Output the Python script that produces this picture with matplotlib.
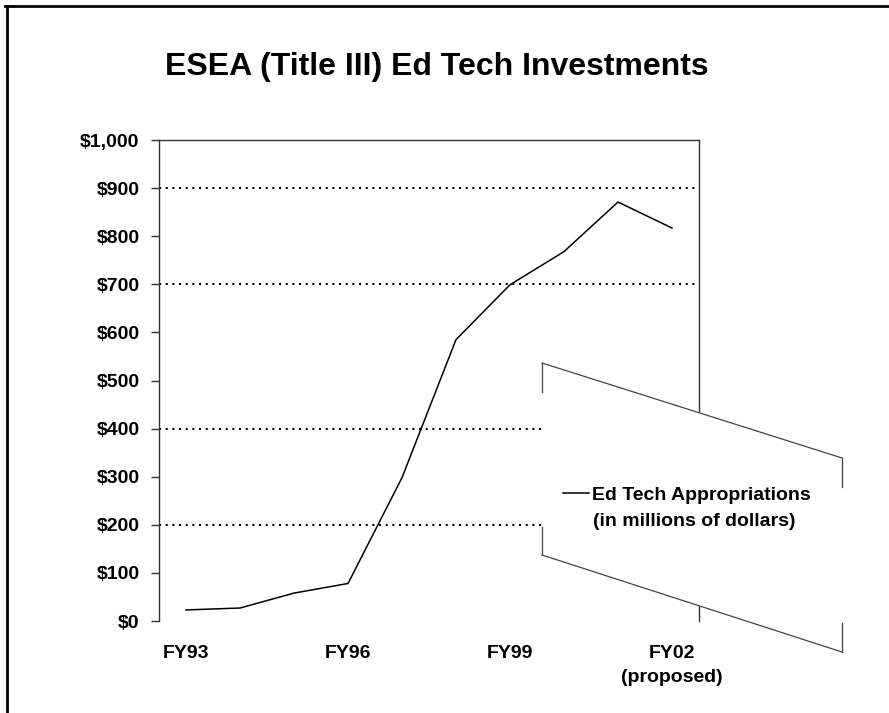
import matplotlib
matplotlib.use("Agg")
import matplotlib.pyplot as plt
from matplotlib.lines import Line2D
from matplotlib.patches import Polygon
from matplotlib.ticker import FuncFormatter, MultipleLocator

plt.rcParams['font.family'] = ['Liberation Sans', 'DejaVu Sans']
plt.rcParams['font.weight'] = 'bold'

# data (millions of dollars)
fiscal_years = ["FY93", "FY94", "FY95", "FY96", "FY97", "FY98", "FY99", "FY00", "FY01", "FY02"]
appropriations = [23, 27, 58, 78, 298, 585, 699, 768, 871, 817]
shown_labels = {"FY93": "FY93", "FY96": "FY96", "FY99": "FY99", "FY02": "FY02\n(proposed)"}
grid_levels = [200, 400, 700, 900]

W, H = 889, 713


def px(x, y):
    # pixel position (from top-left) -> figure fraction
    return (x / W, 1 - y / H)


fig = plt.figure(figsize=(W / 100, H / 100), dpi=100)
ax = fig.add_axes([159 / W, 1 - 621 / H, 540 / W, 481 / H])

x = list(range(len(fiscal_years)))
for g in grid_levels:
    ax.axhline(g, color='black', linestyle=(0, (1, 2.2)), linewidth=1.5, zorder=1)
ax.plot(x, appropriations, color='black', linewidth=1.1, zorder=3)

ax.set_xlim(-0.5, len(fiscal_years) - 0.5)
ax.set_ylim(0, 1000)
ax.yaxis.set_major_locator(MultipleLocator(100))
ax.yaxis.set_major_formatter(FuncFormatter(lambda v, p: f"${v:,.0f}"))
ticks = [i for i, fy in enumerate(fiscal_years) if fy in shown_labels]
ax.set_xticks(ticks, [shown_labels[fiscal_years[i]] for i in ticks], linespacing=1.6)
ax.tick_params(axis='x', length=0, pad=17, labelsize=14)
ax.tick_params(axis='y', length=6, width=1, pad=8, labelsize=14, color='#333333')
ax.spines['bottom'].set_visible(False)
for s in ['left', 'top', 'right']:
    ax.spines[s].set_color('#333333')
    ax.spines[s].set_linewidth(1.0)

fig.suptitle("ESEA (Title III) Ed Tech Investments", x=437 / W, y=1 - 67 / H,
             va='center', fontsize=23, fontweight='bold')

# skewed legend box as it appears in the scan
corners = [px(542, 363), px(842, 458), px(842, 652), px(542, 555)]
fig.add_artist(Polygon(corners, closed=True, facecolor='white', edgecolor='none',
                       transform=fig.transFigure, zorder=4))
edge = dict(color='#444444', linewidth=0.9, transform=fig.transFigure, zorder=5)
for (xa, ya), (xb, yb) in [((542, 363), (842, 458)), ((542, 555), (842, 652)),
                           ((542, 363), (542, 392)), ((542, 527), (542, 555)),
                           ((842, 458), (842, 487)), ((842, 623), (842, 652))]:
    p, q = px(xa, ya), px(xb, yb)
    fig.add_artist(Line2D([p[0], q[0]], [p[1], q[1]], **edge))

a, b = px(563, 493), px(589, 493)
fig.add_artist(Line2D([a[0], b[0]], [a[1], b[1]], color='black', linewidth=1.1,
                      transform=fig.transFigure, zorder=6))
fig.text(*px(592, 496), "Ed Tech Appropriations", fontsize=14, va='center', zorder=6)
fig.text(*px(593, 521), "(in millions of dollars)", fontsize=14, va='center', zorder=6)

# page frame from the scan (top and left edges)
frame = dict(color='black', linewidth=2, transform=fig.transFigure)
fig.add_artist(Line2D([5 / W, 1], [1 - 6 / H, 1 - 6 / H], **frame))
fig.add_artist(Line2D([7 / W, 7 / W], [1 - 6 / H, 0], **frame))

fig.savefig("out.png", dpi=100)
